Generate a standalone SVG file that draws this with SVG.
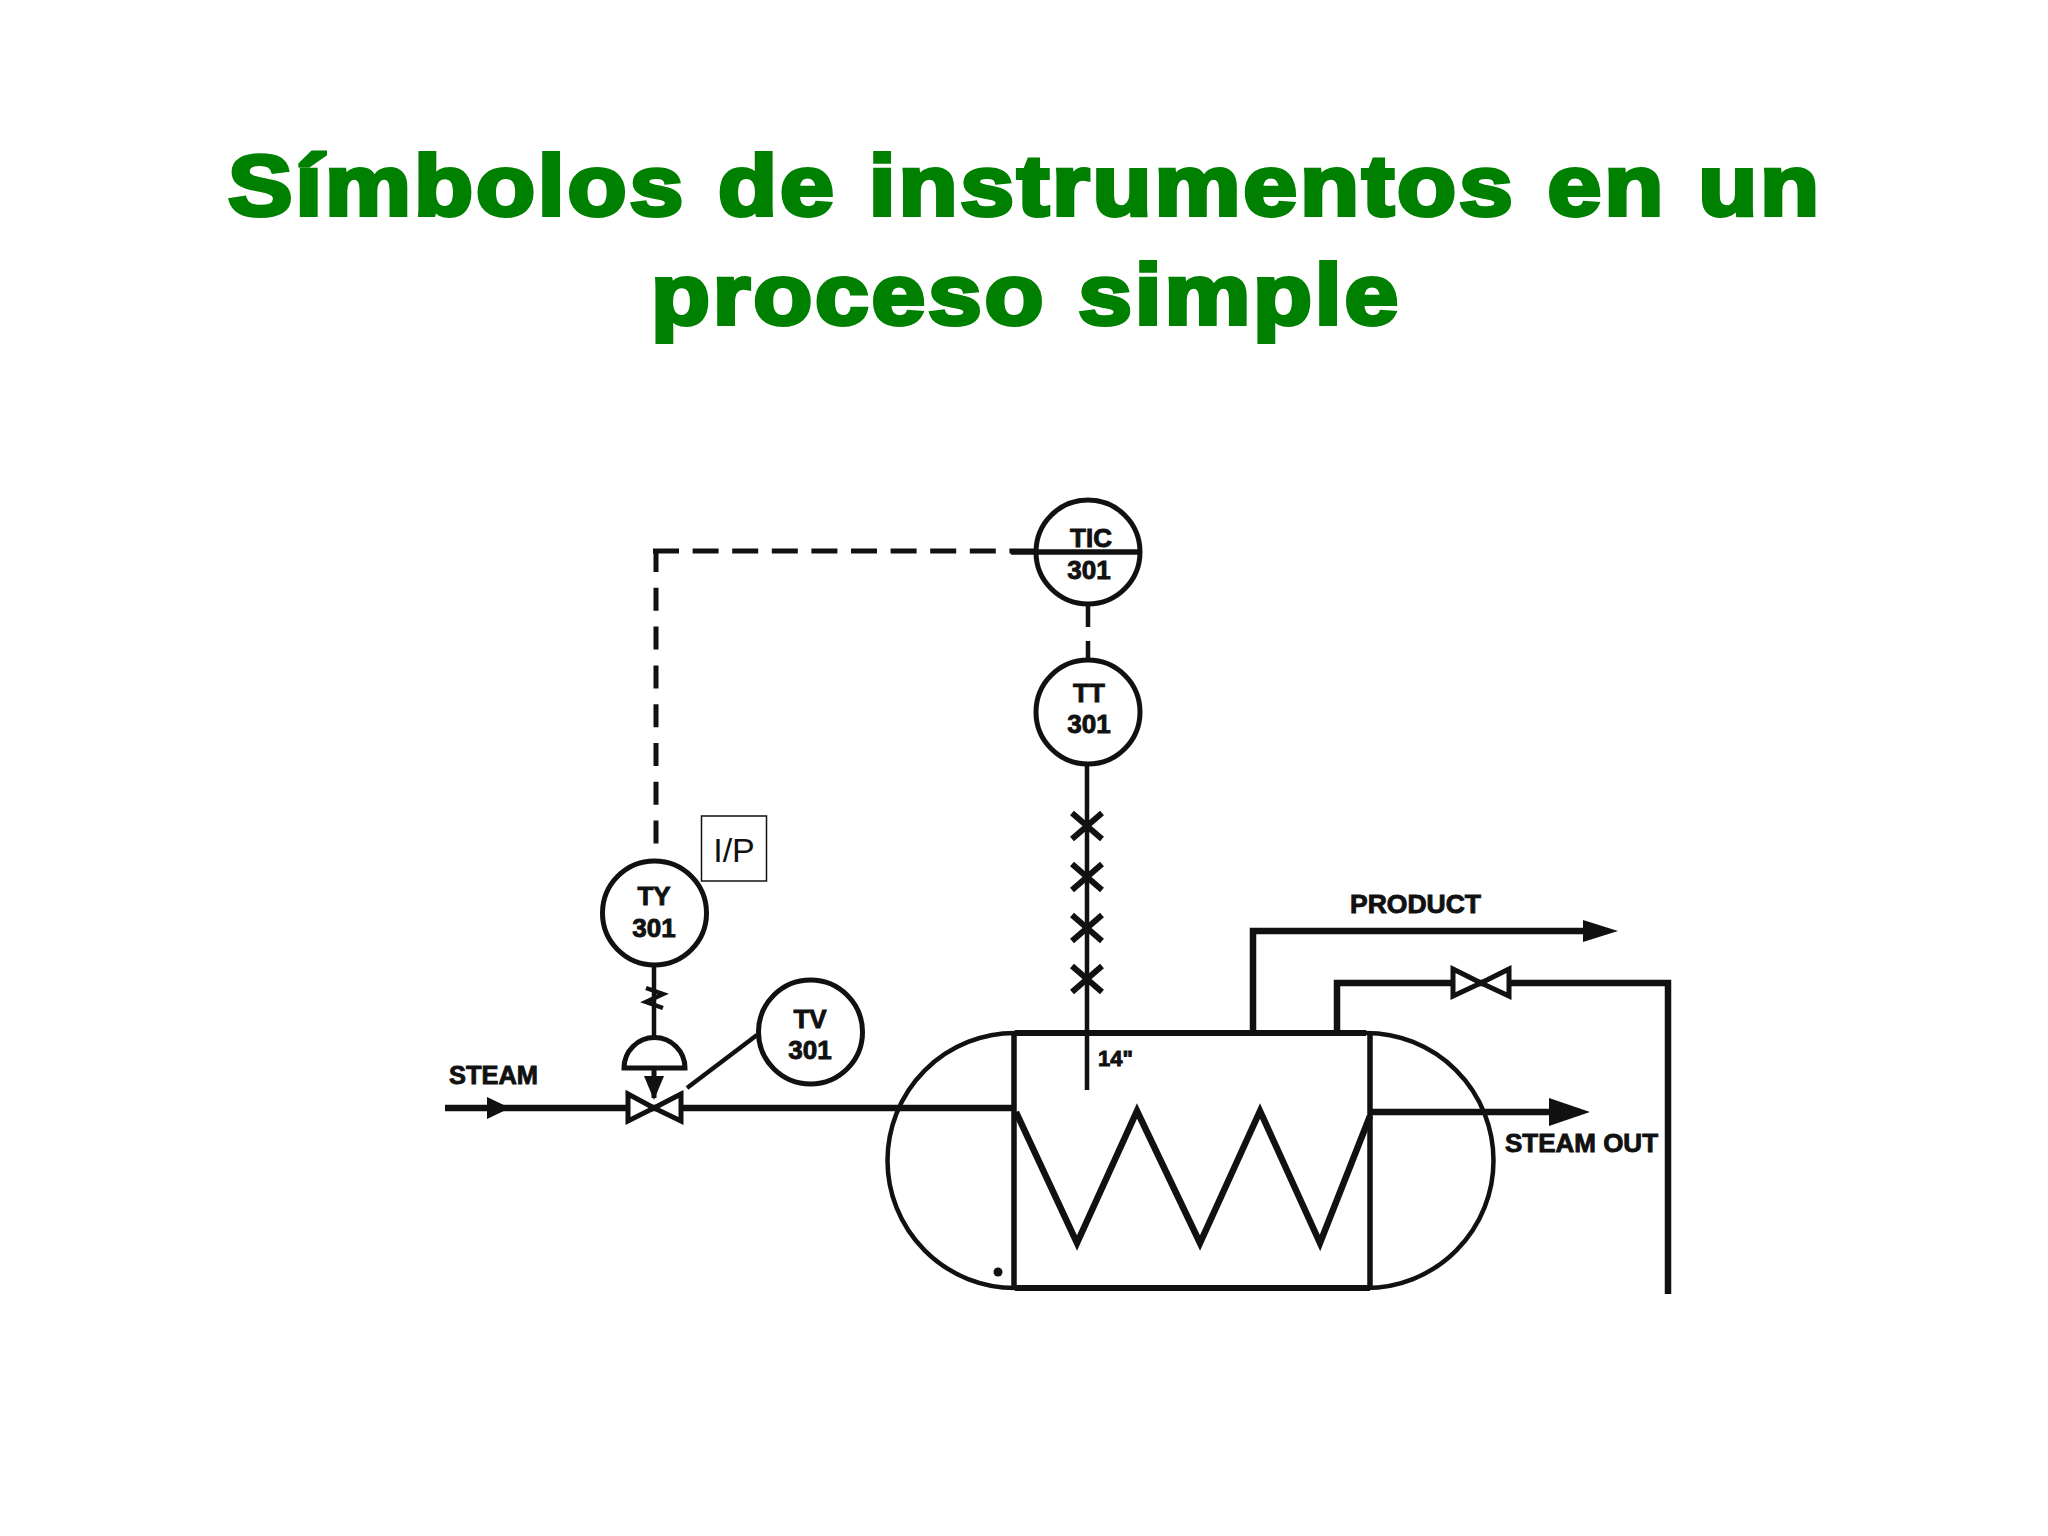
<svg xmlns="http://www.w3.org/2000/svg" width="2048" height="1536" viewBox="0 0 2048 1536">
<style>
.title{font-family:"Liberation Sans",Arial,sans-serif;font-weight:700;font-size:85px;letter-spacing:2.5px;word-spacing:2px;fill:#008000;stroke:#008000;stroke-width:4px;stroke-linejoin:miter;text-anchor:middle}
.lbl{font-family:"Liberation Sans",Arial,sans-serif;font-weight:700;font-size:26px;fill:#111;stroke:#111;stroke-width:.9px}
.tag{font-family:"Liberation Sans",Arial,sans-serif;font-weight:700;font-size:26px;fill:#111;stroke:#111;stroke-width:.9px;text-anchor:middle}
.inst{fill:#fff;stroke:#111;stroke-width:5px}
.pipe{fill:none;stroke:#111;stroke-width:6.5px}
.thin{fill:none;stroke:#111;stroke-width:4.5px}
.valve{fill:#fff;stroke:#111;stroke-width:5px}
.head{fill:#111;stroke:none}
</style>
<rect width="2048" height="1536" fill="#fff"/>
<text class="title" x="1025" y="215" textLength="1594" lengthAdjust="spacingAndGlyphs">Símbolos de instrumentos en un</text>
<text class="title" x="1026" y="324" textLength="750" lengthAdjust="spacingAndGlyphs">proceso simple</text>
<g id="connectors">
<path class="thin" d="M653 551H1040" style="stroke-width:5px" stroke-dasharray="26 13.6"/>
<path class="thin" d="M656 551V850" style="stroke-width:5px" stroke-dasharray="23 15.8" stroke-dashoffset="2"/>
<path class="thin" d="M1088 603V627M1088 641V662"/>
<path class="thin" d="M1087 764V1090"/>
<path class="thin" style="stroke-width:6px" d="M1072 813L1102 839M1102 813L1072 839M1072 864L1102 890M1102 864L1072 890M1072 915L1102 941M1102 915L1072 941M1072 966L1102 992M1102 966L1072 992"/>
<path class="thin" d="M654 965V1037"/>
<path class="thin" d="M646 988L663 994L646 1002L663 1008"/>
<path class="thin" d="M687 1088L757 1035"/>
<path class="pipe" d="M445 1108H1014"/>
<path class="head" d="M487 1097L510 1108L487 1119Z"/>
<path class="pipe" d="M1253 1033V931H1590"/>
<path class="head" d="M1583 920L1618 931L1583 942Z"/>
<path class="pipe" d="M1337 1033V983H1668V1294"/>
<path class="pipe" d="M1370 1112H1555"/>
<path class="head" d="M1549 1098L1590 1112L1549 1126Z"/>
</g>
<g id="vessel">
<path class="thin" d="M1015 1033A127.5 127.5 0 0 0 1015 1288M1366 1033A127.5 127.5 0 0 1 1366 1288"/>
<path class="pipe" style="stroke-width:6px" d="M1015 1033H1366M1015 1288H1370"/>
<path class="thin" style="stroke-width:5.5px" d="M1014 1033V1288M1370 1033V1288"/>
<path class="pipe" d="M1016 1112L1077 1243L1137 1111L1200 1243L1260 1111L1320 1243L1370 1116"/>
<circle cx="998" cy="1272" r="4.5" fill="#111"/>
<text class="lbl" x="1098" y="1066" style="font-size:22px">14"</text>
</g>
<g id="TIC"><circle class="inst" cx="1088" cy="552" r="52"/><path class="thin" style="stroke-width:5.5px" d="M1011 552H1141"/><text class="tag" x="1091" y="547">TIC</text><text class="tag" x="1089" y="579">301</text></g>
<g id="TT"><circle class="inst" cx="1088" cy="712" r="52"/><text class="tag" x="1089" y="702">TT</text><text class="tag" x="1089" y="733">301</text></g>
<g id="TY"><circle class="inst" cx="654.5" cy="913" r="52"/><text class="tag" x="654" y="905">TY</text><text class="tag" x="654" y="937">301</text></g>
<g id="TV"><circle class="inst" cx="810.5" cy="1032" r="52"/><text class="tag" x="810" y="1028">TV</text><text class="tag" x="810" y="1059">301</text></g>
<g id="IP"><rect x="701.5" y="816" width="65" height="65" fill="#fff" stroke="#111" stroke-width="1.5"/><text x="734" y="862" font-family="Liberation Sans,Arial,sans-serif" font-size="34" text-anchor="middle" fill="#111">I/P</text></g>
<g id="TV-valve">
<path class="valve" d="M628 1094L654 1108L628 1121ZM681 1094L654 1108L681 1121Z"/>
<path class="thin" style="stroke-width:5px" d="M624 1068A30.5 30.5 0 0 1 685 1068Z"/>
<path class="thin" style="stroke-width:5px" d="M654 1068V1098"/>
<path class="head" d="M644 1076H664L654 1100Z"/>
</g>
<g id="hand-valve"><path class="valve" d="M1453 969L1481 983L1453 996ZM1509 969L1481 983L1509 996Z"/></g>
<text class="lbl" x="449" y="1084" textLength="89" lengthAdjust="spacingAndGlyphs">STEAM</text>
<text class="lbl" x="1350" y="913" textLength="131" lengthAdjust="spacingAndGlyphs">PRODUCT</text>
<text class="lbl" x="1505" y="1152" textLength="153" lengthAdjust="spacingAndGlyphs">STEAM OUT</text>
</svg>
